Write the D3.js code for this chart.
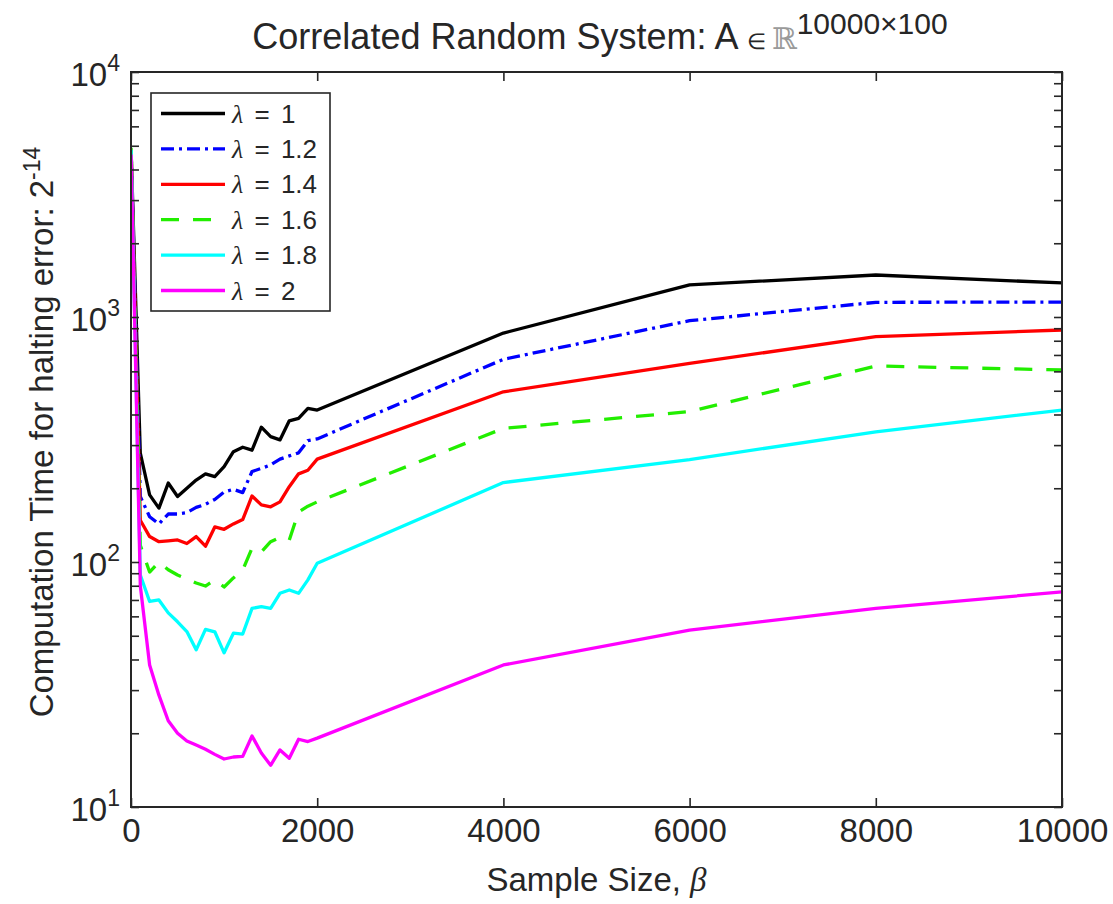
<!DOCTYPE html>
<html>
<head>
<meta charset="utf-8">
<script src="https://cdnjs.cloudflare.com/ajax/libs/d3/7.8.5/d3.min.js"></script>
<style>
	body { margin: 0; background: #fff; }
	text { font-family: "Liberation Sans", Arial, Helvetica, sans-serif; fill: #262626; }
</style>
</head>
<body>
<script>
// sample sizes (beta) shared by every curve
const betas = [1, 100, 200, 300, 400, 500, 600, 700, 800, 900, 1000, 1100, 1200, 1300, 1400, 1500, 1600, 1700, 1800, 1900, 2000, 4000, 6000, 8000, 10000];

// computation times
const lambda1 = [4800, 278, 188, 166, 210, 185, 200, 216, 229, 223, 245, 282, 294, 286, 355, 325, 315, 377, 386, 424, 417, 860, 1352, 1484, 1377];
const lambda12 = [4800, 185, 153, 143, 157, 157, 159, 167, 172, 180, 193, 198, 192, 234, 241, 249, 263, 271, 279, 313, 318, 672, 966, 1148, 1151];
const lambda14 = [4800, 148, 127, 121, 122, 123, 119, 127, 116, 139, 136, 143, 149, 186, 171, 168, 176, 203, 229, 237, 263, 495, 647, 831, 885];
const lambda16 = [4900, 117, 91, 100, 93, 88.5, 85.3, 82.1, 79.8, 84.5, 79.1, 86.1, 92.7, 114, 110, 121, 126, 123, 160, 169, 176, 351, 411, 631, 608];
const lambda18 = [4800, 88.5, 69, 70, 62, 57, 52, 43.8, 53.1, 51.9, 42.6, 51.2, 50.8, 64.7, 65.7, 64.7, 74.5, 76.9, 74.5, 84.5, 98.8, 211, 262, 340, 417];
const lambda2 = [4600, 80, 38, 28.6, 22.5, 20, 18.6, 17.9, 17.2, 16.4, 15.7, 16.0, 16.1, 19.5, 16.6, 14.8, 17.1, 15.8, 18.9, 18.5, 19.1, 38, 52.7, 64.7, 75.5];

const legendLabels = ["1", "1.2", "1.4", "1.6", "1.8", "2"];
const xTicks = [0, 2000, 4000, 6000, 8000, 10000];
const yTickExponents = [1, 2, 3, 4];

const width = 1113;
const height = 904;
const margin = {top: 72, right: 51, bottom: 97, left: 131};
const plotW = width - margin.left - margin.right;
const plotH = height - margin.top - margin.bottom;

const series = [
	{values: lambda1, color: "#000000", dash: null},
	{values: lambda12, color: "#0000ff", dash: "13,5,3,5"},
	{values: lambda14, color: "#ff0000", dash: null},
	{values: lambda16, color: "#22ee00", dash: "18,14"},
	{values: lambda18, color: "#00ffff", dash: null},
	{values: lambda2, color: "#ff00ff", dash: null}
];

let xScale = d3.scaleLinear()
	.domain([0, 10000])
	.range([0, plotW])

let yScale = d3.scaleLog()
	.domain([10, 10000])
	.range([plotH, 0])

let svg = d3.select("body")
	.append("svg")
		.attr("width", width)
		.attr("height", height)

let g = svg.append("g")
		.attr("transform", `translate(${margin.left},${margin.top})`)

g.append("clipPath")
		.attr("id", "clip")
	.append("rect")
		.attr("width", plotW)
		.attr("height", plotH)

// CURVES
let line = d3.line()
	.x((d, i) => xScale(betas[i]))
	.y((d) => yScale(d))

g.append("g")
		.attr("clip-path", "url(#clip)")
	.selectAll("path")
	.data(series)
	.enter()
	.append("path")
		.attr("d", (s) => line(s.values))
		.attr("fill", "none")
		.attr("stroke", (s) => s.color)
		.attr("stroke-width", 3.3)
		.attr("stroke-linejoin", "round")
		.attr("stroke-dasharray", (s) => s.dash)

// AXES - ticks point inwards on all four sides, like a boxed matlab plot
const tickLen = 9;
const yTickLen = 8;
const axisColor = "#262626";

let xAxisBottom = d3.axisBottom(xScale).tickValues(xTicks).tickSizeInner(-tickLen).tickSizeOuter(0).tickPadding(12).tickFormat(d3.format("d"))
let xAxisTop = d3.axisTop(xScale).tickValues(xTicks).tickSizeInner(-tickLen).tickSizeOuter(0).tickFormat("")

let yTickValues = [];
yTickExponents.forEach((e, i) => {
	yTickValues.push(Math.pow(10, e));
	if (i < yTickExponents.length - 1) {
		for (let m = 2; m <= 9; m++) yTickValues.push(m * Math.pow(10, e));
	}
});

let yAxisLeft = d3.axisLeft(yScale).tickValues(yTickValues).tickSizeInner(-yTickLen).tickSizeOuter(0).tickFormat("")
let yAxisRight = d3.axisRight(yScale).tickValues(yTickValues).tickSizeInner(-yTickLen).tickSizeOuter(0).tickFormat("")

let xb = g.append("g").attr("transform", `translate(0,${plotH})`).call(xAxisBottom)
g.append("g").call(xAxisTop)
g.append("g").call(yAxisLeft)
g.append("g").attr("transform", `translate(${plotW},0)`).call(yAxisRight)

g.selectAll(".domain").remove()
g.selectAll(".tick line")
		.attr("stroke", axisColor)
		.attr("stroke-width", 1.6)

xb.selectAll("text")
		.attr("font-family", null)
		.attr("font-size", null)
		.style("font-size", "33px")
		.style("fill", axisColor)

// y tick labels as 10 with exponent
let yLabels = g.append("g")
	.selectAll("text")
	.data(yTickExponents)
	.enter()
	.append("text")
		.attr("x", -11)
		.attr("y", (e) => yScale(Math.pow(10, e)) + 14)
		.attr("text-anchor", "end")
		.style("font-size", "33px")

yLabels.append("tspan").text("10")
yLabels.append("tspan")
		.attr("dy", -15)
		.style("font-size", "23px")
		.text((e) => e)

// box
g.append("rect")
		.attr("width", plotW)
		.attr("height", plotH)
		.attr("fill", "none")
		.attr("stroke", axisColor)
		.attr("stroke-width", 2)

// LABELS
let xTitle = svg.append("text")
		.attr("x", margin.left + plotW / 2)
		.attr("y", 891)
		.attr("text-anchor", "middle")
		.style("font-size", "33px")
xTitle.append("tspan").text("Sample Size, ")
xTitle.append("tspan").style("font-style", "italic").style("font-family", "'Liberation Serif', serif").text("β")

let yTitle = svg.append("text")
		.attr("transform", `translate(53,432) rotate(-90)`)
		.attr("text-anchor", "middle")
		.style("font-size", "33px")
yTitle.append("tspan").text("Computation Time for halting error: 2")
yTitle.append("tspan").attr("dy", -13).style("font-size", "23px").text("-14")

let title = svg.append("text")
		.attr("x", 600)
		.attr("y", 49)
		.attr("text-anchor", "middle")
		.style("font-size", "36px")
title.append("tspan").text("Correlated Random System: A ")
title.append("tspan").style("font-size", "22px").text("∈ ")
title.append("tspan").style("fill", "#9a9a9a").style("font-family", "'DejaVu Serif', serif").style("font-size", "30px").text("ℝ")
title.append("tspan").attr("dy", -15).style("font-size", "30px").text("10000×100")

// START LEGEND
const legX = 151, legY = 93, legW = 179, legH = 218;
const rowGap = 35.4;

let legend = svg.append("g")
		.attr("transform", `translate(${legX},${legY})`)

legend.append("rect")
		.attr("width", legW)
		.attr("height", legH)
		.attr("fill", "#fff")
		.attr("stroke", axisColor)
		.attr("stroke-width", 1.6)

let rows = legend.selectAll(".row")
	.data(series)
	.enter()
	.append("g")
		.attr("transform", (d, i) => `translate(0,${20.5 + i * rowGap})`)

rows.append("line")
		.attr("x1", 10)
		.attr("x2", 74)
		.attr("stroke", (s) => s.color)
		.attr("stroke-width", 3.3)
		.attr("stroke-dasharray", (s) => s.dash)

let rowText = rows.append("text")
		.attr("x", 81)
		.attr("y", 9)
		.style("font-size", "26px")
		.style("word-spacing", "4px")
rowText.append("tspan").style("font-family", "'Liberation Serif', serif").style("font-style", "italic").text("λ")
rowText.append("tspan").text((d, i) => " = " + legendLabels[i])
// END LEGEND
</script>
</body>
</html>
